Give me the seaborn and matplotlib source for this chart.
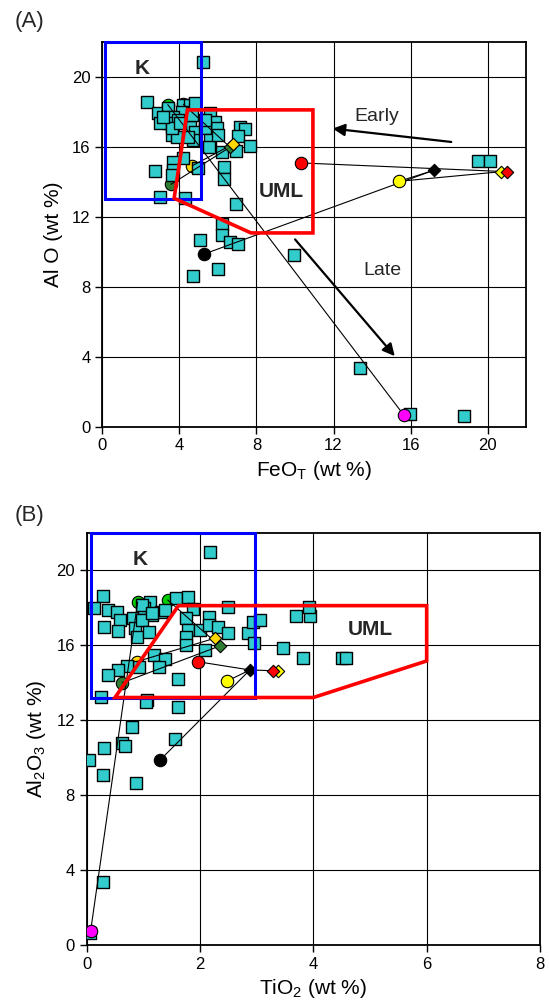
import numpy as np
import pandas as pd
import matplotlib
matplotlib.use("Agg")
import matplotlib.pyplot as plt
import seaborn as sns
from matplotlib.patches import Polygon, Rectangle

sns.set_theme(style="white")
plt.rcParams['font.family'] = ['Liberation Sans', 'DejaVu Sans']

# ---------------- Panel A: FeO_T vs Al2O3 (samples) ----------------
a_feo = [5.21, 2.31, 2.91, 3.43, 4.21, 4.55, 4.81, 4.12, 3.35, 3.69, 3.43, 3.95, 3.00,
         3.60, 4.55, 4.81, 4.73, 5.59, 5.85, 5.94, 5.33, 5.59, 7.15, 7.41, 7.03, 7.67,
         6.94, 6.20, 5.55, 4.21, 3.69, 2.74, 3.69, 4.98, 6.33, 6.33, 3.00, 4.29, 6.92,
         6.23, 6.23, 6.63, 7.03, 5.07, 9.96, 6.02, 4.69, 13.37, 15.96, 18.78, 19.48,
         20.11, 3.60, 4.64, 5.33, 3.86, 4.47, 6.02, 3.60, 3.17, 4.04]
a_al = [20.86, 18.54, 17.91, 18.19, 18.38, 18.38, 18.48, 18.00, 17.71, 17.71, 17.34, 17.53,
        17.34, 16.67, 17.14, 16.86, 16.38, 17.91, 17.43, 17.05, 17.05, 16.38, 17.14, 16.99,
        16.61, 16.04, 15.77, 15.71, 15.97, 15.34, 15.14, 14.63, 14.67, 14.77, 14.82, 14.14,
        13.14, 13.05, 12.71, 11.58, 10.95, 10.57, 10.44, 10.67, 9.81, 8.99, 8.61, 3.37,
        0.73, 0.63, 15.20, 15.20, 14.38, 17.81, 17.53, 16.57, 16.57, 16.67, 17.05, 17.71,
        17.34]

# Special (model / parent) points, panel A
a_pt_names = ["blk_c", "yel_c", "red_c", "blk_d", "yel_d", "red_d", "mag_c",
              "dgr_c", "yel_c2", "dgr_d", "yel_d2", "grn_c", "grn_c2"]
a_pt_feo = [5.30, 15.40, 10.30, 17.20, 20.70, 21.00, 15.64, 3.57, 4.67, 6.63, 6.80, 4.21, 3.40]
a_pt_al = [9.87, 14.02, 15.07, 14.65, 14.57, 14.57, 0.67, 13.85, 14.91, 15.97, 16.15, 18.42, 18.40]

# ---------------- Panel B: TiO2 vs Al2O3 (samples) ----------------
b_ti = [2.18, 0.28, 0.13, 0.37, 0.53, 0.59, 0.31, 0.55, 0.82, 0.85, 0.88, 1.00, 1.12, 1.02,
        1.15, 0.97, 1.10, 1.32, 1.38, 1.57, 1.78, 1.88, 1.76, 1.78, 2.00, 1.75, 1.76, 2.16,
        2.15, 2.32, 2.49, 2.50, 2.08, 2.85, 2.94, 3.06, 2.96, 3.47, 3.69, 3.94, 3.93, 3.81,
        4.50, 4.58, 1.19, 1.38, 1.28, 0.92, 0.71, 0.56, 0.37, 1.62, 0.26, 1.06, 1.62, 0.80,
        0.31, 0.63, 0.68, 0.04, 0.28, 0.87, 1.56, 1.05, 0.29, 0.06, 0.97, 1.15]
b_al = [20.94, 18.61, 17.96, 17.87, 17.78, 17.33, 16.98, 16.75, 17.42, 16.89, 16.44, 18.13,
        18.31, 17.96, 17.60, 17.33, 16.71, 17.78, 17.87, 18.49, 18.58, 17.90, 17.42, 16.80,
        16.80, 16.41, 16.00, 17.51, 17.07, 16.94, 16.66, 18.04, 15.73, 16.66, 17.24, 17.33,
        16.09, 15.82, 17.55, 17.55, 18.04, 15.29, 15.29, 15.29, 15.47, 15.24, 14.84, 14.84,
        14.88, 14.67, 14.40, 14.17, 13.24, 13.07, 12.71, 11.61, 10.52, 10.76, 10.63, 9.87,
        9.07, 8.62, 10.99, 12.98, 3.38, 0.66, 18.13, 17.69]

b_pt_ti = [1.30, 2.48, 1.96, 2.88, 3.38, 3.28, 0.07, 0.63, 0.88, 2.35, 2.26, 1.43, 0.90]
b_pt_al = [9.88, 14.08, 15.11, 14.67, 14.63, 14.63, 0.76, 13.99, 15.11, 15.95, 16.36, 18.40, 18.30]

pt_colors = {"blk_c": "black", "yel_c": "#FFFF00", "red_c": "#FF0000", "blk_d": "black",
             "yel_d": "#FFFF00", "red_d": "#FF0000", "mag_c": "#FF00FF", "dgr_c": "#2E7D32",
             "yel_c2": "#FFD700", "dgr_d": "#2E7D32", "yel_d2": "#FFD700", "grn_c": "#00CC00",
             "grn_c2": "#00CC00"}
pt_markers = {"blk_c": "o", "yel_c": "o", "red_c": "o", "blk_d": "D", "yel_d": "D",
              "red_d": "D", "mag_c": "o", "dgr_c": "o", "yel_c2": "o", "dgr_d": "D",
              "yel_d2": "D", "grn_c": "o", "grn_c2": "o"}
# points drawn beneath the sample squares (partly hidden in the original)
under = {"dgr_c", "yel_c2", "grn_c", "grn_c2"}

# connecting lines (by point name)
a_links = [("blk_c", "blk_d"), ("yel_c", "blk_d"), ("yel_c", "yel_d"), ("red_c", "red_d"),
           ("dgr_c", "dgr_d"), ("yel_c2", "yel_d2"), ("grn_c", "dgr_d"), ("grn_c2", "mag_c")]
b_links = [("blk_c", "blk_d"), ("yel_c", "blk_d"), ("red_c", "blk_d"), ("blk_d", "red_d"),
           ("dgr_c", "dgr_d"), ("yel_c2", "yel_d2"), ("grn_c", "dgr_d"), ("grn_c2", "mag_c")]

# field outlines
a_k_box = (0.15, 13.0, 5.1, 22.0)
a_uml_x = [4.42, 10.93, 10.93, 7.72, 3.73, 4.42]
a_uml_y = [18.1, 18.1, 11.07, 11.07, 13.05, 18.1]
b_k_box = (0.07, 13.2, 2.97, 22.0)
b_uml_x = [0.50, 1.62, 6.00, 6.00, 4.00, 0.50]
b_uml_y = [13.2, 18.1, 18.1, 15.15, 13.2, 13.2]

SQ = "#33CCCC"

fig = plt.figure(figsize=(5.49, 10.08), dpi=100)
axA = fig.add_axes([0.1862, 0.5767, 0.7725, 0.382])
axB = fig.add_axes([0.1579, 0.0625, 0.8257, 0.4092])


def draw(ax, xs, ys, px, py, links, kbox, ux, uy, xlim, xticks):
    ax.set_xlim(*xlim)
    ax.set_ylim(0, 22)
    ax.set_xticks(xticks)
    ax.set_yticks(range(0, 21, 4))
    ax.grid(True, color="black", lw=0.8, zorder=0)
    ax.set_axisbelow(True)
    names = a_pt_names
    pos = {n: (x, y) for n, x, y in zip(names, px, py)}
    sdf = pd.DataFrame({"x": xs, "y": ys})
    sns.scatterplot(data=sdf, x="x", y="y", ax=ax, marker="s", s=75, color=SQ,
                    edgecolor="black", linewidth=1.0, zorder=3, legend=False)
    for a, b in links:
        ax.plot([pos[a][0], pos[b][0]], [pos[a][1], pos[b][1]], color="black",
                lw=0.8, zorder=4)
    pdf = pd.DataFrame({"x": px, "y": py, "name": names})
    for _, r in pdf.iterrows():
        m = pt_markers[r["name"]]
        sns.scatterplot(x=[r.x], y=[r.y], ax=ax, marker=m, s=80 if m == "o" else 40,
                        color=pt_colors[r["name"]], edgecolor="black", linewidth=0.8,
                        zorder=2 if r["name"] in under else 5, legend=False)
    x0, y0, x1, y1 = kbox
    ax.add_patch(Rectangle((x0, y0), x1 - x0, y1 - y0, fill=False, ec="#0000FF",
                           lw=2.2, zorder=6, clip_on=False))
    ax.add_patch(Polygon(list(zip(ux, uy)), closed=True, fill=False, ec="#FF0000",
                         lw=2.6, zorder=6))
    for s in ax.spines.values():
        s.set_color("black")
        s.set_linewidth(1.3)
    ax.tick_params(direction="out", length=5, width=1, colors="black",
                   labelsize=12, left=True, bottom=True)


draw(axA, a_feo, a_al, a_pt_feo, a_pt_al, a_links, a_k_box, a_uml_x, a_uml_y,
     (0, 22), range(0, 21, 4))
draw(axB, b_ti, b_al, b_pt_ti, b_pt_al, b_links, b_k_box, b_uml_x, b_uml_y,
     (0, 8), range(0, 9, 2))

# annotations panel A
axA.text(2.05, 20.45, "K", fontsize=15, fontweight="bold", ha="center", va="center", zorder=7)
axA.text(9.3, 13.45, "UML", fontsize=15, fontweight="bold", ha="center", va="center", zorder=7)
axA.text(14.25, 17.7, "Early", fontsize=14, ha="center", va="center", zorder=7)
axA.text(14.55, 8.9, "Late", fontsize=14, ha="center", va="center", zorder=7)
axA.annotate("", xy=(11.81, 17.05), xytext=(18.25, 16.25),
             arrowprops=dict(arrowstyle="-|>", color="black", lw=1.6, mutation_scale=18),
             zorder=7)
axA.annotate("", xy=(15.27, 3.91), xytext=(9.91, 10.82),
             arrowprops=dict(arrowstyle="-|>", color="black", lw=1.6, mutation_scale=18),
             zorder=7)
axA.set_xlabel("FeO$_\\mathregular{T}$ (wt %)", fontsize=15, color="black", labelpad=4)
axA.set_ylabel("Al O (wt %)", fontsize=15, color="black", labelpad=6)

axB.text(0.94, 20.55, "K", fontsize=15, fontweight="bold", ha="center", va="center", zorder=7)
axB.text(5.0, 16.85, "UML", fontsize=15, fontweight="bold", ha="center", va="center", zorder=7)
axB.set_xlabel("TiO$_\\mathregular{2}$ (wt %)", fontsize=15, color="black", labelpad=4)
axB.set_ylabel("Al$_\\mathregular{2}$O$_\\mathregular{3}$ (wt %)", fontsize=15, color="black",
               labelpad=6)

fig.text(30 / 549, 1 - 22 / 1008, "(A)", fontsize=16, ha="center", va="center")
fig.text(30 / 549, 1 - 515 / 1008, "(B)", fontsize=16, ha="center", va="center")

fig.savefig("out.png", dpi=100)
